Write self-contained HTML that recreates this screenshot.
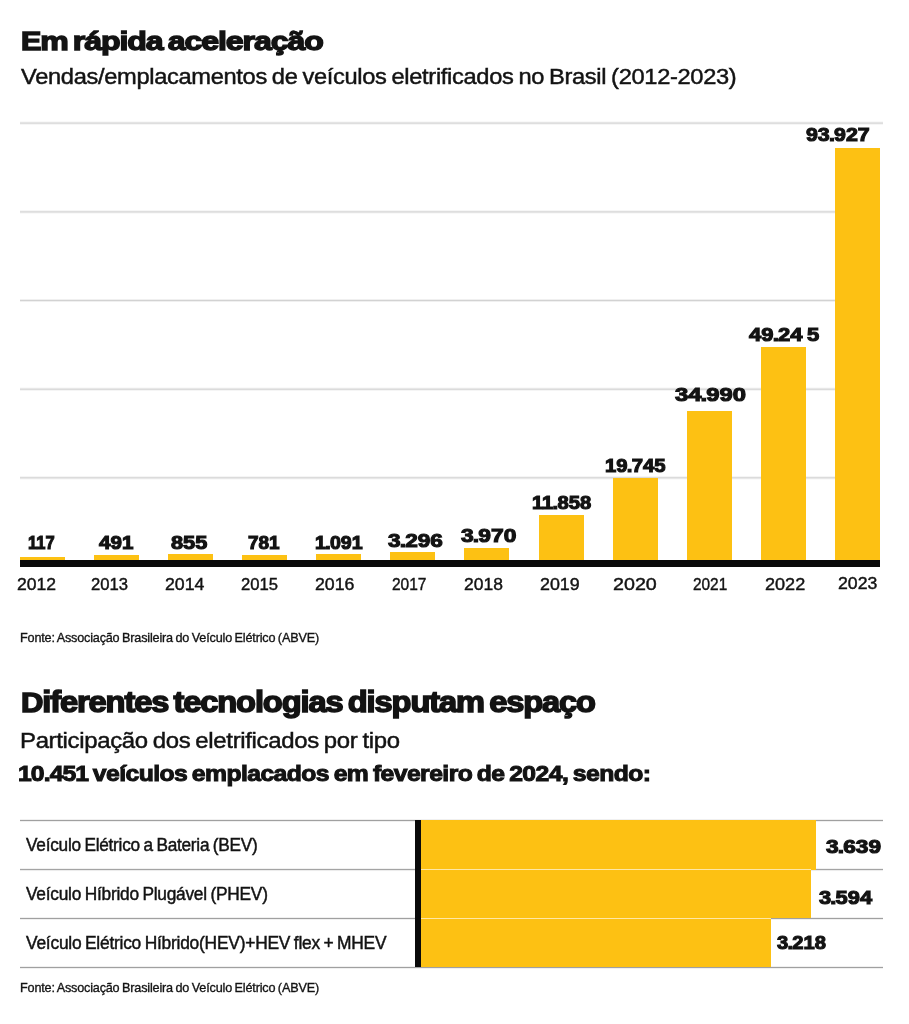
<!DOCTYPE html><html lang="pt-BR"><head><meta charset="utf-8"><title>Em rápida aceleração</title><style>
html,body{margin:0;padding:0;background:#fff}
body{width:909px;height:1024px;position:relative;overflow:hidden;font-family:"Liberation Sans", sans-serif;color:#131313}
.g{position:absolute}
.b{position:absolute;background:#fdc113}
.t{position:absolute;white-space:nowrap;line-height:1;transform-origin:0 0;margin:0}
</style></head><body>
<div class="g" style="left:20px;width:863px;top:121px;height:4px;background:linear-gradient(to bottom,#f9f9f9 0px 1px,#e4e4e4 1px 2px,#dedede 2px 3px,#f6f6f6 3px 4px)"></div>
<div class="g" style="left:20px;width:816px;top:210px;height:4px;background:linear-gradient(to bottom,#f6f6f6 0px 1px,#dedede 1px 2px,#e4e4e4 2px 3px,#f9f9f9 3px 4px)"></div>
<div class="g" style="left:20px;width:816px;top:299px;height:4px;background:linear-gradient(to bottom,#f0f0f0 0px 1px,#d2d2d2 1px 2px,#f0f0f0 2px 3px,#ffffff 3px 4px)"></div>
<div class="g" style="left:20px;width:816px;top:387px;height:4px;background:linear-gradient(to bottom,#fafafa 0px 1px,#e7e7e7 1px 2px,#dbdbdb 2px 3px,#f5f5f5 3px 4px)"></div>
<div class="g" style="left:20px;width:816px;top:476px;height:4px;background:linear-gradient(to bottom,#f5f5f5 0px 1px,#dbdbdb 1px 2px,#e7e7e7 2px 3px,#fafafa 3px 4px)"></div>
<div class="b" style="left:20px;top:556.6px;width:45px;height:4.4px"></div>
<div class="b" style="left:94px;top:554.6px;width:45px;height:6.4px"></div>
<div class="b" style="left:168.3px;top:553.8px;width:45px;height:7.2px"></div>
<div class="b" style="left:242.2px;top:554.7px;width:45px;height:6.3px"></div>
<div class="b" style="left:316px;top:554.3px;width:45px;height:6.7px"></div>
<div class="b" style="left:390px;top:552.4px;width:45px;height:8.6px"></div>
<div class="b" style="left:464.4px;top:548px;width:45px;height:13px"></div>
<div class="b" style="left:538.5px;top:515px;width:45px;height:46px"></div>
<div class="b" style="left:612.6px;top:478.2px;width:45px;height:82.8px"></div>
<div class="b" style="left:686.6px;top:410.6px;width:45px;height:150.4px"></div>
<div class="b" style="left:760.6px;top:346.8px;width:45px;height:214.2px"></div>
<div class="b" style="left:835px;top:147.9px;width:45px;height:413.1px"></div>
<div class="k" style="position:absolute;left:20px;top:560px;width:859.8px;height:6.5px;background:#0a0a0a"></div>
<div class="g" style="left:20px;width:863px;top:819px;height:4px;background:linear-gradient(to bottom,#f0f0f0 0px 1px,#a0a0a0 1px 2px,#f0f0f0 2px 3px,#ffffff 3px 4px)"></div>
<div class="g" style="left:20px;width:863px;top:868px;height:4px;background:linear-gradient(to bottom,#f1f1f1 0px 1px,#a4a4a4 1px 2px,#ececec 2px 3px,#fefefe 3px 4px)"></div>
<div class="g" style="left:20px;width:863px;top:917px;height:4px;background:linear-gradient(to bottom,#f0f0f0 0px 1px,#a0a0a0 1px 2px,#f0f0f0 2px 3px,#ffffff 3px 4px)"></div>
<div class="g" style="left:20px;width:863px;top:966px;height:4px;background:linear-gradient(to bottom,#f0f0f0 0px 1px,#a0a0a0 1px 2px,#f0f0f0 2px 3px,#ffffff 3px 4px)"></div>
<div class="b" style="left:420px;top:820.4px;width:396.2px;height:49.3px"></div>
<div class="b" style="left:420px;top:869.7px;width:391.3px;height:48.7px"></div>
<div class="b" style="left:420px;top:918.4px;width:350.8px;height:48.6px"></div>
<div class="b" style="left:420px;top:869.1px;width:391.3px;height:1.2px;background:#fee7a6"></div>
<div class="b" style="left:420px;top:917.8px;width:350.8px;height:1.2px;background:#fee7a6"></div>
<div class="k" style="position:absolute;left:415px;top:820.2px;width:6.2px;height:147px;background:#0a0a0a"></div>
<div class="t" style="left:20.90px;top:28.00px;font-size:26.6px;font-weight:700;letter-spacing:-0.9px;word-spacing:-2.2px;-webkit-text-stroke:1.4px #131313;transform:scaleX(1.2060);"><span style="font-size:.95em">E</span>m rápida aceleração</div>
<div class="t" style="left:21.05px;top:67.00px;font-size:21.5px;letter-spacing:-0.3px;word-spacing:-1.2px;-webkit-text-stroke:0.45px #131313;transform:scaleX(1.1005);">Vendas/emplacamentos de veículos eletrificados no Brasil (2012-2023)</div>
<div class="t" style="left:28.07px;top:534.00px;font-size:18.8px;font-weight:700;-webkit-text-stroke:1.1px #131313;transform:scaleX(0.8796);">117</div>
<div class="t" style="left:99.00px;top:534.00px;font-size:18.8px;font-weight:700;-webkit-text-stroke:1.1px #131313;transform:scaleX(1.0968);">491</div>
<div class="t" style="left:171.33px;top:534.00px;font-size:18.8px;font-weight:700;-webkit-text-stroke:1.1px #131313;transform:scaleX(1.1553);">855</div>
<div class="t" style="left:248.00px;top:534.00px;font-size:18.8px;font-weight:700;-webkit-text-stroke:1.1px #131313;transform:scaleX(1.0108);">781</div>
<div class="t" style="left:315.19px;top:534.00px;font-size:18.8px;font-weight:700;-webkit-text-stroke:1.1px #131313;transform:scaleX(1.0444);">1<span style="margin:0 -0.7px">.</span>091</div>
<div class="t" style="left:387.51px;top:532.00px;font-size:18.8px;font-weight:700;-webkit-text-stroke:1.1px #131313;transform:scaleX(1.2002);">3<span style="margin:0 -0.7px">.</span>296</div>
<div class="t" style="left:460.51px;top:527.00px;font-size:18.8px;font-weight:700;-webkit-text-stroke:1.1px #131313;transform:scaleX(1.2135);">3<span style="margin:0 -0.7px">.</span>970</div>
<div class="t" style="left:531.77px;top:494.00px;font-size:18.8px;font-weight:700;-webkit-text-stroke:1.1px #131313;transform:scaleX(1.0750);">11<span style="margin:0 -0.7px">.</span>858</div>
<div class="t" style="left:604.92px;top:457.00px;font-size:18.8px;font-weight:700;-webkit-text-stroke:1.1px #131313;transform:scaleX(1.0800);">19<span style="margin:0 -0.7px">.</span>745</div>
<div class="t" style="left:675.00px;top:386.00px;font-size:18.8px;font-weight:700;-webkit-text-stroke:1.1px #131313;transform:scaleX(1.2679);">34<span style="margin:0 -0.7px">.</span>990</div>
<div class="t" style="left:749.25px;top:326.00px;font-size:18.8px;font-weight:700;-webkit-text-stroke:1.1px #131313;transform:scaleX(1.1701);">49<span style="margin:0 -0.7px">.</span>24<span style="margin-left:4px">5</span></div>
<div class="t" style="left:805.75px;top:126.00px;font-size:18.8px;font-weight:700;-webkit-text-stroke:1.1px #131313;transform:scaleX(1.1366);">93<span style="margin:0 -0.7px">.</span>927</div>
<div class="t" style="left:16.54px;top:577.00px;font-size:16px;-webkit-text-stroke:0.4px #131313;transform:scaleX(1.0971);">2012</div>
<div class="t" style="left:90.78px;top:577.00px;font-size:16px;-webkit-text-stroke:0.4px #131313;transform:scaleX(1.0404);">2013</div>
<div class="t" style="left:165.15px;top:577.00px;font-size:16px;-webkit-text-stroke:0.4px #131313;transform:scaleX(1.1063);">2014</div>
<div class="t" style="left:240.78px;top:577.00px;font-size:16px;-webkit-text-stroke:0.4px #131313;transform:scaleX(1.0404);">2015</div>
<div class="t" style="left:315.15px;top:577.00px;font-size:16px;-webkit-text-stroke:0.4px #131313;transform:scaleX(1.1063);">2016</div>
<div class="t" style="left:392.00px;top:577.00px;font-size:16px;-webkit-text-stroke:0.4px #131313;transform:scaleX(0.9689);">2017</div>
<div class="t" style="left:464.35px;top:577.00px;font-size:16px;-webkit-text-stroke:0.4px #131313;transform:scaleX(1.0918);">2018</div>
<div class="t" style="left:539.97px;top:577.00px;font-size:16px;-webkit-text-stroke:0.4px #131313;transform:scaleX(1.1151);">2019</div>
<div class="t" style="left:612.98px;top:577.00px;font-size:16px;-webkit-text-stroke:0.4px #131313;transform:scaleX(1.2293);">2020</div>
<div class="t" style="left:692.61px;top:577.00px;font-size:16px;-webkit-text-stroke:0.4px #131313;transform:scaleX(0.9604);">2021</div>
<div class="t" style="left:765.13px;top:577.00px;font-size:16px;-webkit-text-stroke:0.4px #131313;transform:scaleX(1.1299);">2022</div>
<div class="t" style="left:837.58px;top:576.00px;font-size:16px;-webkit-text-stroke:0.4px #131313;transform:scaleX(1.1037);">2023</div>
<div class="t" style="left:19.89px;top:631.00px;font-size:13.6px;letter-spacing:-0.2px;word-spacing:-0.8px;-webkit-text-stroke:0.35px #131313;transform:scaleX(0.9307);">Fonte: Associação Brasileira do Veículo Elétrico (ABVE)</div>
<div class="t" style="left:20.83px;top:687.00px;font-size:29.4px;font-weight:700;letter-spacing:-1px;word-spacing:-2.4px;-webkit-text-stroke:1.5px #131313;transform:scaleX(1.1095);"><span style="font-size:.95em">D</span>iferentes tecnologias disputam espaço</div>
<div class="t" style="left:20.01px;top:731.00px;font-size:21.5px;letter-spacing:-0.3px;word-spacing:-1.2px;-webkit-text-stroke:0.45px #131313;transform:scaleX(1.1139);">Participação dos eletrificados por tipo</div>
<div class="t" style="left:18.05px;top:763.00px;font-size:22px;font-weight:700;letter-spacing:-0.5px;word-spacing:-1.5px;-webkit-text-stroke:1px #131313;transform:scaleX(1.1232);"><span style="letter-spacing:-0.8px">10.451</span> veículos emplacados em fevereiro de 2024, sendo:</div>
<div class="t" style="left:26.39px;top:837.00px;font-size:17.6px;letter-spacing:-0.25px;word-spacing:-1px;-webkit-text-stroke:0.45px #131313;transform:scaleX(0.9797);">Veículo Elétrico a Bateria (BEV)</div>
<div class="t" style="left:26.39px;top:886.00px;font-size:17.6px;letter-spacing:-0.25px;word-spacing:-1px;-webkit-text-stroke:0.45px #131313;transform:scaleX(0.9846);">Veículo Híbrido Plugável (PHEV)</div>
<div class="t" style="left:26.39px;top:935.00px;font-size:17.6px;letter-spacing:-0.25px;word-spacing:-1px;-webkit-text-stroke:0.45px #131313;transform:scaleX(0.9896);">Veículo Elétrico Híbrido(HEV)+HEV flex + MHEV</div>
<div class="t" style="left:825.58px;top:838.00px;font-size:18.8px;font-weight:700;-webkit-text-stroke:1.1px #131313;transform:scaleX(1.2046);">3<span style="margin:0 -0.7px">.</span>639</div>
<div class="t" style="left:819.49px;top:889.00px;font-size:18.8px;font-weight:700;-webkit-text-stroke:1.1px #131313;transform:scaleX(1.1624);">3<span style="margin:0 -0.7px">.</span>594</div>
<div class="t" style="left:777.03px;top:934.00px;font-size:18.8px;font-weight:700;-webkit-text-stroke:1.1px #131313;transform:scaleX(1.0718);">3<span style="margin:0 -0.7px">.</span>218</div>
<div class="t" style="left:19.89px;top:981.00px;font-size:13.6px;letter-spacing:-0.2px;word-spacing:-0.8px;-webkit-text-stroke:0.35px #131313;transform:scaleX(0.9307);">Fonte: Associação Brasileira do Veículo Elétrico (ABVE)</div>
</body></html>
